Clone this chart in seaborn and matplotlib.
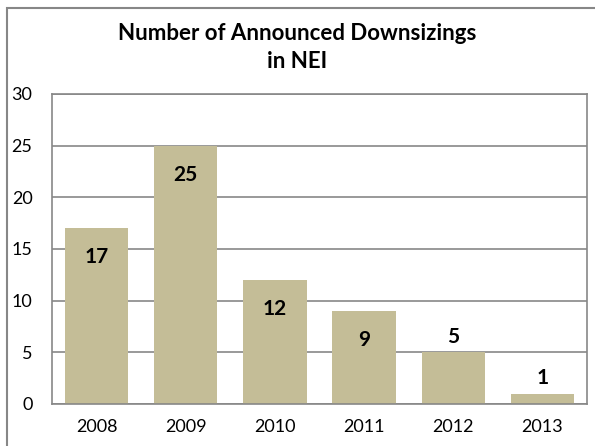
import numpy as np
import pandas as pd
import matplotlib.pyplot as plt
import seaborn as sns
from matplotlib.patches import Rectangle

# chart data
years = ["2008", "2009", "2010", "2011", "2012", "2013"]
downsizings = [17, 25, 12, 9, 5, 1]
y_ticks = [0, 5, 10, 15, 20, 25, 30]

df = pd.DataFrame({"Year": years, "Count": downsizings})

sns.set_style("white")
plt.rcParams['font.family'] = ['Lato', 'DejaVu Sans']

fig = plt.figure(figsize=(5.95, 4.46), dpi=100)
ax = fig.add_axes([52 / 595, 1 - 404 / 446, 535 / 595, 310 / 446])

sns.barplot(data=df, x="Year", y="Count", color="#C4BD97", width=0.71,
            saturation=1, linewidth=0, ax=ax, zorder=2)

# grid, spines, ticks
ax.set_ylim(0, 30)
ax.set_xlim(-0.5, len(years) - 0.5)
ax.set_yticks(y_ticks)
ax.yaxis.grid(True, color="#878787", linewidth=1.2, zorder=0)
ax.set_axisbelow(True)
for side in ax.spines:
    ax.spines[side].set_color("#878787")
    ax.spines[side].set_linewidth(1.2)
ax.set_xlabel("")
ax.set_ylabel("")
ax.set_xticks(np.arange(len(years)))
ax.set_xticklabels(years)
ax.set_xticks(np.arange(len(years) + 1) - 0.5, minor=True)
ax.tick_params(axis="x", which="major", length=0, pad=11, labelsize=13, labelcolor="black")
ax.tick_params(axis="x", which="minor", length=5, width=1.2, color="#878787", direction="out")
ax.tick_params(axis="y", length=0, pad=14, labelsize=13, labelcolor="black")
for lab in ax.get_yticklabels():
    lab.set_horizontalalignment("right")

# data labels: inside the bar end when it fits, otherwise just above
for i, v in enumerate(downsizings):
    if v >= 9:
        ax.annotate(str(v), (i, v), xytext=(0, -21), textcoords="offset points",
                    ha="center", va="center", fontsize=15, fontweight="bold", color="black")
    else:
        ax.annotate(str(v), (i, v), xytext=(0, 11), textcoords="offset points",
                    ha="center", va="center", fontsize=15, fontweight="bold", color="black")

# title
fig.text(0.5, 1 - 33 / 446, "Number of Announced Downsizings", ha="center", va="center",
         fontsize=16, fontweight="bold", color="black")
fig.text(0.5, 1 - 61 / 446, "in NEI", ha="center", va="center",
         fontsize=16, fontweight="bold", color="black")

# outer chart border (cropped on right and bottom)
fig.patches.append(Rectangle((7 / 595, -0.1), 1.2, 1 - 8 / 446 + 0.1,
                             transform=fig.transFigure, fill=False,
                             edgecolor="#878787", linewidth=1.5))

plt.savefig("out.png", dpi=100)
